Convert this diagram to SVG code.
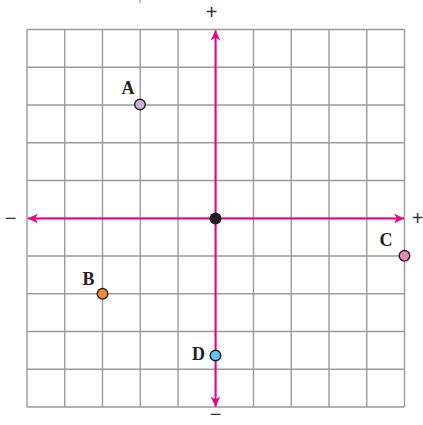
<svg xmlns="http://www.w3.org/2000/svg" width="423" height="425" viewBox="0 0 423 425">
<style>
.grid line{stroke:#9a9a9a;stroke-width:1.4}
.axis{stroke:#ec008c;stroke-width:2;fill:none}
.pt{stroke:#231f20;stroke-width:1.4}
.lbl{font-family:"Liberation Serif",serif;font-weight:bold;font-size:18px;fill:#231f20}
.sign{font-family:"Liberation Sans",sans-serif;font-size:20px;fill:#333}
</style>
<defs>
<marker id="ah" viewBox="0 0 10 10" refX="10" refY="5" markerWidth="5" markerHeight="5" orient="auto-start-reverse" markerUnits="strokeWidth">
<path d="M0,0 L10,5 L0,10 L3,5 z" fill="#ec008c"/>
</marker>
</defs>
<rect width="423" height="425" fill="#fff"/>
<line x1="140" y1="0" x2="140" y2="3" stroke="#9a9a9a" stroke-width="1.2"/>
<g class="grid" id="grid">
<line x1="27" y1="29.5" x2="27" y2="407"/>
<line x1="64.75" y1="29.5" x2="64.75" y2="407"/>
<line x1="102.5" y1="29.5" x2="102.5" y2="407"/>
<line x1="140.25" y1="29.5" x2="140.25" y2="407"/>
<line x1="178" y1="29.5" x2="178" y2="407"/>
<line x1="215.75" y1="29.5" x2="215.75" y2="407"/>
<line x1="253.5" y1="29.5" x2="253.5" y2="407"/>
<line x1="291.25" y1="29.5" x2="291.25" y2="407"/>
<line x1="329" y1="29.5" x2="329" y2="407"/>
<line x1="366.75" y1="29.5" x2="366.75" y2="407"/>
<line x1="404.5" y1="29.5" x2="404.5" y2="407"/>
<line x1="27" y1="29.5" x2="404.5" y2="29.5"/>
<line x1="27" y1="67.25" x2="404.5" y2="67.25"/>
<line x1="27" y1="105" x2="404.5" y2="105"/>
<line x1="27" y1="142.75" x2="404.5" y2="142.75"/>
<line x1="27" y1="180.5" x2="404.5" y2="180.5"/>
<line x1="27" y1="218.25" x2="404.5" y2="218.25"/>
<line x1="27" y1="256" x2="404.5" y2="256"/>
<line x1="27" y1="293.75" x2="404.5" y2="293.75"/>
<line x1="27" y1="331.5" x2="404.5" y2="331.5"/>
<line x1="27" y1="369.25" x2="404.5" y2="369.25"/>
<line x1="27" y1="407" x2="404.5" y2="407"/>
</g>
<g id="connectors">
<line class="axis" x1="28" y1="218.5" x2="404" y2="218.5" marker-start="url(#ah)" marker-end="url(#ah)"/>
<line class="axis" x1="215.5" y1="30.5" x2="215.5" y2="406.5" marker-start="url(#ah)" marker-end="url(#ah)"/>
</g>
<g id="signs">
<text class="sign" x="211.5" y="19" text-anchor="middle">+</text>
<text class="sign" x="10.5" y="225" text-anchor="middle">−</text>
<text class="sign" x="417.5" y="225" text-anchor="middle">+</text>
<text class="sign" x="215.5" y="420.5" text-anchor="middle">−</text>
</g>
<g id="origin"><circle cx="215.5" cy="218.5" r="6" fill="#231f20"/></g>
<g id="A"><circle class="pt" cx="140" cy="104.5" r="5.3" fill="#c7b2d8"/><text class="lbl" x="128" y="94" text-anchor="middle">A</text></g>
<g id="B"><circle class="pt" cx="102.5" cy="293.8" r="5.3" fill="#f28a3c"/><text class="lbl" x="88.5" y="285" text-anchor="middle">B</text></g>
<g id="C"><circle class="pt" cx="404.5" cy="255.8" r="5.3" fill="#e48bbb"/><text class="lbl" x="386" y="246" text-anchor="middle">C</text></g>
<g id="D"><circle class="pt" cx="215.5" cy="355.5" r="5.3" fill="#5bc6ea"/><text class="lbl" x="198.5" y="359.5" text-anchor="middle">D</text></g>
</svg>
